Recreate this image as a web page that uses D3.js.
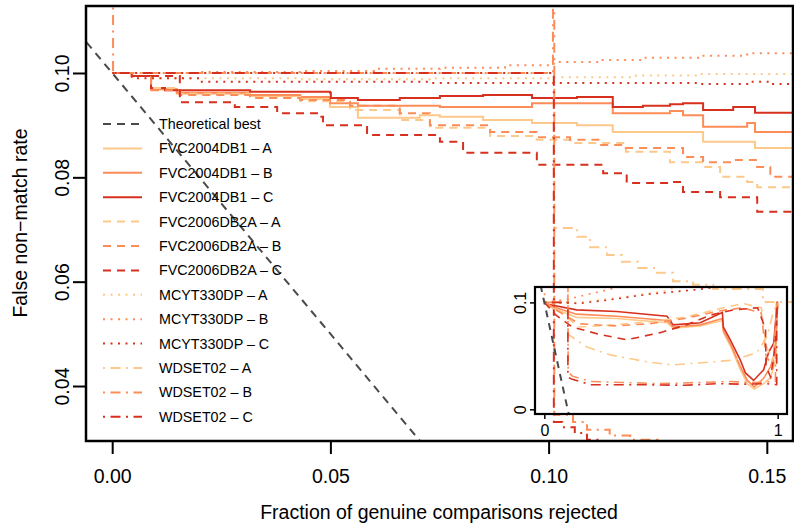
<!DOCTYPE html>
<html lang="en">
<head>
<meta charset="utf-8">
<title>FNMR vs rejected genuine comparisons</title>
<script src="https://cdn.jsdelivr.net/npm/d3@7"></script>
<style>
	body { margin: 0; background: #fff; }
	svg text { font-family: "Liberation Sans", Arial, Helvetica, sans-serif; fill: #000; }
</style>
</head>
<body>
<svg id="chart" width="794" height="528"></svg>
<script>
// ---------- main panel data: [fraction rejected, FNMR] ----------
const fvc04A = [[0,0.1],[0.0045,0.0994],[0.0089,0.0969],[0.0148,0.0960],[0.0316,0.0956],[0.0431,0.0950],[0.0499,0.0935],[0.0563,0.0914],[0.0705,0.0919],[0.0751,0.0916],[0.0850,0.0910],[0.0962,0.0904],[0.1065,0.0900],[0.1147,0.0887],[0.1354,0.0868],[0.1473,0.0856],[0.156,0.0856]];
const fvc04B = [[0,0.1],[0.0045,0.0994],[0.0089,0.0969],[0.0148,0.0962],[0.0316,0.0958],[0.0431,0.0954],[0.0499,0.0942],[0.0563,0.0937],[0.0751,0.0935],[0.0962,0.0942],[0.1147,0.0923],[0.1278,0.0927],[0.1308,0.0919],[0.1354,0.0897],[0.1455,0.0904],[0.1473,0.0887],[0.156,0.0887]];
const fvc04C = [[0,0.1],[0.0045,0.0994],[0.0089,0.0971],[0.0121,0.0967],[0.0316,0.0964],[0.0499,0.0962],[0.0501,0.0952],[0.0563,0.0948],[0.0659,0.0952],[0.0751,0.0956],[0.0850,0.0958],[0.0962,0.0952],[0.1065,0.0954],[0.1147,0.0935],[0.1216,0.0937],[0.1278,0.0940],[0.1308,0.0942],[0.1354,0.0929],[0.1423,0.0935],[0.1473,0.0924],[0.156,0.0931]];
const fvc06A = [[0,0.1],[0.0045,0.0994],[0.0089,0.0971],[0.0155,0.0960],[0.0316,0.0954],[0.0431,0.0946],[0.0545,0.0929],[0.0659,0.0910],[0.0728,0.0895],[0.0866,0.0879],[0.0973,0.0872],[0.1049,0.0866],[0.1177,0.0849],[0.1278,0.0829],[0.1354,0.0820],[0.1393,0.0801],[0.1455,0.0791],[0.1478,0.0781],[0.156,0.0766]];
const fvc06B = [[0,0.1],[0.0045,0.0994],[0.0089,0.0967],[0.0155,0.0958],[0.0316,0.0952],[0.0431,0.0948],[0.0545,0.0937],[0.0659,0.0923],[0.0728,0.0900],[0.0866,0.0887],[0.0973,0.0877],[0.1049,0.0872],[0.1118,0.0862],[0.1177,0.0856],[0.1308,0.0839],[0.1354,0.0829],[0.1423,0.0833],[0.1478,0.0820],[0.1508,0.0801],[0.156,0.0799]];
const fvc06C = [[0,0.1],[0.0045,0.0994],[0.0155,0.0944],[0.0281,0.0935],[0.0378,0.0923],[0.0476,0.0916],[0.0483,0.0900],[0.0584,0.0881],[0.0751,0.0868],[0.0804,0.0847],[0.0973,0.0824],[0.1125,0.0808],[0.1179,0.0789],[0.1278,0.0791],[0.1308,0.0772],[0.1393,0.0762],[0.1478,0.0734],[0.156,0.0728]];
const mcytA = [[0,0.1],[0.0089,0.0990],[0.0431,0.0988],[0.0728,0.0990],[0.1012,0.0992],[0.1200,0.0995],[0.1347,0.0998],[0.156,0.1002]];
const mcytB = [[0,0.1],[0.0201,0.1002],[0.0431,0.1004],[0.0600,0.1008],[0.0751,0.1010],[0.0900,0.1015],[0.1012,0.1021],[0.1118,0.1025],[0.1216,0.1029],[0.1347,0.1033],[0.1455,0.1038],[0.156,0.1042]];
const mcytC = [[0,0.1],[0.0045,0.0990],[0.0201,0.0983],[0.0728,0.0981],[0.1347,0.0979],[0.1455,0.0983],[0.1508,0.0979],[0.156,0.0979]];
const wdA = [[0,0.1],[0.1012,0.0703],[0.1065,0.0686],[0.1095,0.0666],[0.1134,0.0651],[0.1168,0.0638],[0.1205,0.0626],[0.1248,0.0617],[0.1285,0.0601],[0.1331,0.0594],[0.1377,0.0586],[0.1491,0.0561],[0.156,0.0542]];
const wdB = [[0,0.13],[0.0002,0.1],[0.1010,0.13],[0.1013,0.0345],[0.1056,0.0331],[0.1088,0.0316],[0.1140,0.0305],[0.1187,0.0297],[0.1250,0.0285]];
const wdC = [[0,0.1],[0.1012,0.0331],[0.1031,0.0321],[0.1060,0.0310],[0.1088,0.0297],[0.1120,0.0285]];
const theoretical = [[-0.01,0.11],[0.12,-0.02]];

// ---------- inset data (full range) ----------
const inFvc04A = [[0,0.1],[0.02,0.096],[0.138,0.086],[0.31,0.085],[0.526,0.081],[0.552,0.076],[0.668,0.078],[0.763,0.083],[0.767,0.072],[0.80,0.058],[0.84,0.037],[0.87,0.024],[0.90,0.019],[0.94,0.024],[0.97,0.030],[0.99,0.045],[1,0.1]];
const inFvc04B = [[0,0.1],[0.02,0.097],[0.138,0.089],[0.31,0.087],[0.526,0.083],[0.552,0.077],[0.668,0.079],[0.763,0.085],[0.767,0.074],[0.80,0.060],[0.84,0.040],[0.87,0.027],[0.90,0.021],[0.94,0.029],[0.97,0.040],[0.99,0.055],[1,0.1]];
const inFvc04C = [[0,0.1],[0.02,0.098],[0.138,0.093],[0.31,0.0915],[0.526,0.087],[0.552,0.079],[0.668,0.081],[0.763,0.0906],[0.767,0.077],[0.797,0.065],[0.84,0.046],[0.862,0.034],[0.897,0.027],[0.94,0.037],[0.961,0.053],[0.983,0.062],[0.998,0.1],[1,0.1]];
const inFvc06A = [[0,0.1],[0.05,0.094],[0.15,0.077],[0.3,0.079],[0.45,0.082],[0.6,0.086],[0.75,0.094],[0.85,0.099],[0.93,0.095],[0.95,0.06],[0.98,0.045],[1,0.1]];
const inFvc06B = [[0,0.1],[0.05,0.093],[0.15,0.080],[0.3,0.078],[0.45,0.080],[0.6,0.085],[0.75,0.092],[0.85,0.095],[0.93,0.090],[0.95,0.05],[0.98,0.04],[1,0.1]];
const inFvc06C = [[0,0.1],[0.05,0.088],[0.12,0.077],[0.237,0.070],[0.353,0.065],[0.496,0.0717],[0.61,0.079],[0.71,0.088],[0.81,0.093],[0.914,0.095],[0.948,0.075],[0.95,0.04],[0.97,0.03],[0.99,0.06],[1,0.1]];
const inMcytA = [[0,0.1],[0.15,0.1],[0.3,0.104],[0.5,0.110],[0.6,0.116]];
const inMcytB = [[0,0.1],[0.1,0.103],[0.237,0.110],[0.35,0.116]];
const inMcytC = [[0,0.1],[0.15,0.099],[0.3,0.103],[0.44,0.1075],[0.655,0.112],[0.8,0.116]];
const inWdA = [[0,0.1],[0.101,0.1],[0.101,0.0703],[0.18,0.0585],[0.28,0.051],[0.45,0.044],[0.55,0.0415],[0.70,0.044],[0.81,0.046],[0.91,0.053],[0.955,0.068],[0.98,0.09],[1,0.1]];
const inWdB = [[0,0.13],[0.001,0.1],[0.101,0.1],[0.101,0.13],[0.102,0.035],[0.12,0.031],[0.2,0.026],[0.5,0.024],[0.8,0.026],[0.9,0.025],[0.99,0.026],[0.995,0.1],[1,0.1]];
const inWdC = [[0,0.1],[0.101,0.1],[0.101,0.03],[0.12,0.028],[0.2,0.023],[0.4,0.023],[0.6,0.0225],[0.75,0.024],[0.85,0.0235],[0.95,0.024],[0.996,0.023],[0.996,0.1],[1,0.1]];
const inTheoretical = [[-0.04,0.14],[0.12,-0.02]];

// ticks
const xTicks = [0, 0.05, 0.10, 0.15];
const yTicks = [0.04, 0.06, 0.08, 0.10];
const inXTicks = [0, 1];
const inYTicks = [0, 0.1];

const datasets = ['FVC2004DB1', 'FVC2006DB2A', 'MCYT330DP', 'WDSET02'];
const variants = ['A', 'B', 'C'];
const mainData = [[fvc04A, fvc04B, fvc04C], [fvc06A, fvc06B, fvc06C], [mcytA, mcytB, mcytC], [wdA, wdB, wdC]];
const insetData = [[inFvc04A, inFvc04B, inFvc04C], [inFvc06A, inFvc06B, inFvc06C], [inMcytA, inMcytB, inMcytC], [inWdA, inWdB, inWdC]];

// styles
const colors = { A: '#fdc98a', B: '#fc8d59', C: '#d7301f' };
const dashes = { FVC2004DB1: null, FVC2006DB2A: '8,6', MCYT330DP: '2,5.5', WDSET02: '2,5.5,10,5.5' };
const greyLine = '#4a4a4a';

const svg = d3.select('#chart');

// main scales
const x = d3.scaleLinear().domain([-0.006, 0.156]).range([86, 793]);
const y = d3.scaleLinear().domain([0.02946, 0.11284]).range([441, 6]);

// inset scales
const xi = d3.scaleLinear().domain([-0.04, 1.04]).range([535, 787]);
const yi = d3.scaleLinear().domain([-0.0044, 0.1144]).range([414, 287]);

const defs = svg.append('defs');
defs.append('clipPath').attr('id', 'clipMain')
	.append('rect').attr('x', 86).attr('y', 6).attr('width', 707).attr('height', 435);
defs.append('clipPath').attr('id', 'clipInset')
	.append('rect').attr('x', 535).attr('y', 287).attr('width', 252).attr('height', 127);

function drawSeries(g, sets, xs, ys, width, step) {
	const line = d3.line()
		.x(d => xs(d[0]))
		.y(d => ys(d[1]))
		.curve(step ? d3.curveStepAfter : d3.curveLinear);
	datasets.forEach((ds, i) => {
		variants.forEach((v, j) => {
			g.append('path')
				.datum(sets[i][j])
				.attr('d', line)
				.attr('fill', 'none')
				.attr('stroke', colors[v])
				.attr('stroke-width', width)
				.attr('stroke-dasharray', dashes[ds])
				.attr('stroke-linejoin', 'miter');
		});
	});
}

////////// main panel //////////
const mainG = svg.append('g').attr('clip-path', 'url(#clipMain)');
drawSeries(mainG, mainData, x, y, 2, true);

mainG.append('path')
	.datum(theoretical)
	.attr('d', d3.line().x(d => x(d[0])).y(d => y(d[1])))
	.attr('fill', 'none')
	.attr('stroke', greyLine)
	.attr('stroke-width', 2)
	.attr('stroke-dasharray', '8,6');

// box
svg.append('rect')
	.attr('x', 86).attr('y', 6).attr('width', 707).attr('height', 435)
	.attr('fill', 'none').attr('stroke', '#000').attr('stroke-width', 2.5);

// x axis
const xAxis = svg.append('g').attr('transform', 'translate(0,441)')
	.call(d3.axisBottom(x).tickValues(xTicks).tickSize(13).tickFormat(d3.format('.2f')));
xAxis.select('.domain').remove();
xAxis.selectAll('.tick line').attr('stroke', '#000').attr('stroke-width', 2);
xAxis.selectAll('.tick text')
	.attr('y', 42).attr('dy', 0)
	.attr('font-size', 19.5)
	.attr('font-family', '"Liberation Sans", Arial, sans-serif');

// y axis
const yAxis = svg.append('g').attr('transform', 'translate(86,0)')
	.call(d3.axisLeft(y).tickValues(yTicks).tickSize(13).tickFormat(d3.format('.2f')));
yAxis.select('.domain').remove();
yAxis.selectAll('.tick line').attr('stroke', '#000').attr('stroke-width', 2);
yAxis.selectAll('.tick text')
	.attr('x', 0).attr('dy', 0)
	.attr('text-anchor', 'middle')
	.attr('transform', 'translate(-17,0) rotate(-90)')
	.attr('font-size', 19.5)
	.attr('font-family', '"Liberation Sans", Arial, sans-serif');

// axis titles
svg.append('text')
	.attr('x', 439).attr('y', 519)
	.attr('text-anchor', 'middle')
	.attr('font-size', 19.5)
	.text('Fraction of genuine comparisons rejected');

svg.append('text')
	.attr('transform', 'translate(27,223) rotate(-90)')
	.attr('text-anchor', 'middle')
	.attr('font-size', 19.5)
	.text('False non\u2212match rate');

////////// legend //////////
const legendItems = [{ label: 'Theoretical best', color: greyLine, dash: '8,6' }];
datasets.forEach(ds => {
	variants.forEach(v => {
		legendItems.push({ label: ds + ' \u2013 ' + v, color: colors[v], dash: dashes[ds] });
	});
});

const legend = svg.append('g').selectAll('.legend')
	.data(legendItems)
	.enter().append('g')
	.attr('class', 'legend')
	.attr('transform', (d, i) => 'translate(0,' + (124 + i * 24.4) + ')');

legend.append('line')
	.attr('x1', 103).attr('x2', 142)
	.attr('stroke', d => d.color)
	.attr('stroke-width', 2)
	.attr('stroke-dasharray', d => d.dash);

legend.append('text')
	.attr('x', 159).attr('y', 5)
	.attr('font-size', 14.3)
	.text(d => d.label);

////////// inset //////////
const insetG = svg.append('g').attr('clip-path', 'url(#clipInset)');
drawSeries(insetG, insetData, xi, yi, 1.6, false);

insetG.append('path')
	.datum(inTheoretical)
	.attr('d', d3.line().x(d => xi(d[0])).y(d => yi(d[1])))
	.attr('fill', 'none')
	.attr('stroke', greyLine)
	.attr('stroke-width', 2)
	.attr('stroke-dasharray', '7,6');

svg.append('rect')
	.attr('x', 535).attr('y', 287).attr('width', 252).attr('height', 127)
	.attr('fill', 'none').attr('stroke', '#000').attr('stroke-width', 2.2);

const inX = svg.append('g').attr('transform', 'translate(0,414)')
	.call(d3.axisBottom(xi).tickValues(inXTicks).tickSize(5).tickFormat(d3.format('d')));
inX.select('.domain').remove();
inX.selectAll('.tick line').attr('stroke', '#000').attr('stroke-width', 1.5);
inX.selectAll('.tick text')
	.attr('y', 22).attr('dy', 0)
	.attr('font-size', 16)
	.attr('font-family', '"Liberation Sans", Arial, sans-serif');

const inY = svg.append('g').attr('transform', 'translate(535,0)')
	.call(d3.axisLeft(yi).tickValues(inYTicks).tickSize(5).tickFormat(d => d === 0 ? '0' : '0.1'));
inY.select('.domain').remove();
inY.selectAll('.tick line').attr('stroke', '#000').attr('stroke-width', 1.5);
inY.selectAll('.tick text')
	.attr('x', 0).attr('dy', 0)
	.attr('text-anchor', 'middle')
	.attr('transform', 'translate(-9,0) rotate(-90)')
	.attr('font-size', 16)
	.attr('font-family', '"Liberation Sans", Arial, sans-serif');
</script>
</body>
</html>
